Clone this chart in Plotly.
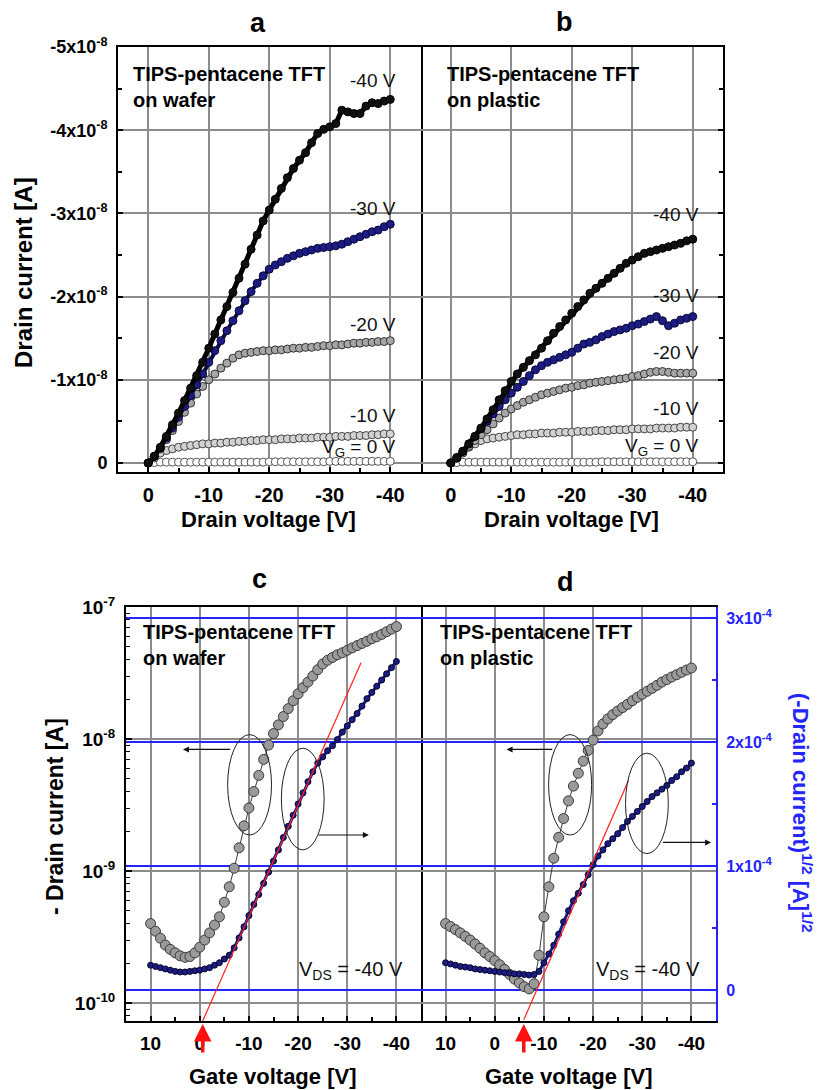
import plotly.graph_objects as go

W, H = 822, 1090


def px(x):
    return x / W


def py(y):
    return 1 - y / H


# ---------------- data ----------------
# Output characteristics (panels a, b): drain voltage sweep, |drain current| in units of 1e-8 A
VD = list(range(0, -41, -1))

A_VG0 = [0.0, 0.005, 0.01, 0.01, 0.01, 0.01, 0.01, 0.01, 0.01, 0.01, 0.01, 0.01, 0.01, 0.01,
         0.01, 0.01, 0.01, 0.01, 0.01, 0.01, 0.015, 0.015, 0.015, 0.015, 0.015, 0.015, 0.015,
         0.015, 0.015, 0.015, 0.02, 0.02, 0.02, 0.02, 0.02, 0.02, 0.02, 0.02, 0.02, 0.02, 0.02]
A_VG10 = [0, 0.06, 0.12, 0.15, 0.17, 0.19, 0.2, 0.21, 0.22, 0.23, 0.23, 0.24, 0.24, 0.25, 0.25,
          0.26, 0.26, 0.27, 0.27, 0.28, 0.28, 0.28, 0.29, 0.29, 0.29, 0.3, 0.3, 0.3, 0.31, 0.31,
          0.31, 0.32, 0.32, 0.32, 0.33, 0.33, 0.33, 0.34, 0.34, 0.35, 0.35]
A_VG20 = [0, 0.08, 0.17, 0.28, 0.39, 0.5, 0.61, 0.72, 0.83, 0.92, 1.0, 1.07, 1.14, 1.2, 1.26,
          1.3, 1.32, 1.33, 1.34, 1.35, 1.35, 1.36, 1.36, 1.37, 1.38, 1.38, 1.39, 1.39, 1.4, 1.41,
          1.41, 1.42, 1.42, 1.43, 1.44, 1.44, 1.45, 1.45, 1.46, 1.46, 1.47]
A_VG30 = [0, 0.08, 0.18, 0.3, 0.42, 0.55, 0.68, 0.81, 0.94, 1.07, 1.21, 1.35, 1.47, 1.59, 1.71,
          1.83, 1.95, 2.06, 2.16, 2.25, 2.33, 2.38, 2.42, 2.46, 2.49, 2.52, 2.54, 2.56, 2.58, 2.59,
          2.6, 2.61, 2.63, 2.66, 2.69, 2.72, 2.75, 2.78, 2.8, 2.84, 2.87]
A_VG40 = [0.0, 0.08, 0.19, 0.32, 0.46, 0.6, 0.75, 0.9, 1.05, 1.21, 1.38, 1.55, 1.72, 1.88, 2.05,
          2.22, 2.39, 2.57, 2.74, 2.91, 3.04, 3.17, 3.3, 3.43, 3.54, 3.64, 3.73, 3.85, 3.96, 4.01,
          4.04, 4.08, 4.24, 4.22, 4.2, 4.2, 4.29, 4.33, 4.32, 4.35, 4.37]

B_VG0 = [0.0, 0.005, 0.01, 0.01, 0.01, 0.01, 0.01, 0.01, 0.01, 0.01, 0.01, 0.01, 0.01, 0.01,
         0.01, 0.01, 0.01, 0.01, 0.01, 0.01, 0.01, 0.01, 0.01, 0.01, 0.01, 0.015, 0.015, 0.015,
         0.015, 0.015, 0.015, 0.015, 0.015, 0.015, 0.015, 0.015, 0.015, 0.015, 0.015, 0.015, 0.015]
B_VG10 = [0, 0.07, 0.14, 0.19, 0.23, 0.27, 0.29, 0.3, 0.31, 0.32, 0.33, 0.34, 0.34, 0.35, 0.35,
          0.36, 0.36, 0.36, 0.37, 0.37, 0.37, 0.38, 0.38, 0.38, 0.39, 0.39, 0.39, 0.4, 0.4, 0.4,
          0.41, 0.41, 0.41, 0.41, 0.42, 0.42, 0.42, 0.42, 0.43, 0.43, 0.43]
B_VG20 = [0, 0.06, 0.12, 0.2, 0.27, 0.34, 0.4, 0.47, 0.54, 0.6, 0.65, 0.69, 0.73, 0.76, 0.79,
          0.82, 0.84, 0.86, 0.88, 0.9, 0.91, 0.93, 0.94, 0.96, 0.97, 0.98, 0.99, 1.0, 1.01, 1.02,
          1.04, 1.05, 1.07, 1.09, 1.1, 1.1, 1.09, 1.08, 1.08, 1.08, 1.08]
B_VG30 = [0, 0.06, 0.14, 0.23, 0.32, 0.41, 0.5, 0.59, 0.68, 0.76, 0.84, 0.91, 0.98, 1.05, 1.12,
          1.17, 1.21, 1.24, 1.27, 1.3, 1.33, 1.38, 1.43, 1.45, 1.48, 1.52, 1.55, 1.58, 1.6, 1.62,
          1.65, 1.67, 1.7, 1.73, 1.76, 1.71, 1.65, 1.68, 1.72, 1.74, 1.76]
B_VG40 = [0, 0.06, 0.14, 0.23, 0.32, 0.42, 0.53, 0.64, 0.76, 0.87, 0.98, 1.07, 1.15, 1.23, 1.3,
          1.38, 1.47, 1.56, 1.64, 1.72, 1.8, 1.88, 1.96, 2.04, 2.1, 2.16, 2.22, 2.28, 2.34, 2.4,
          2.44, 2.48, 2.52, 2.54, 2.56, 2.58, 2.6, 2.62, 2.64, 2.67, 2.69]

# Transfer characteristics (panels c, d): gate voltage sweep
VG = list(range(10, -41, -1))
C_ID = [4.0e-10, 3.5e-10, 3.1e-10, 2.75e-10, 2.55e-10, 2.4e-10, 2.28e-10, 2.22e-10, 2.25e-10,
        2.4e-10, 2.65e-10,
        3.0e-10, 3.4e-10, 3.9e-10, 4.5e-10, 5.8e-10, 7.6e-10, 1.05e-9, 1.5e-9, 2.2e-9, 3.0e-9,
        4.0e-9, 5.3e-9, 7.0e-9, 9.0e-9, 1.1e-8, 1.28e-8, 1.48e-8, 1.7e-8, 1.95e-8, 2.2e-8,
        2.45e-8, 2.7e-8, 3.0e-8, 3.35e-8, 3.7e-8, 3.95e-8, 4.15e-8, 4.35e-8, 4.5e-8, 4.7e-8,
        4.9e-8, 5.1e-8, 5.3e-8, 5.5e-8, 5.75e-8, 5.95e-8, 6.2e-8, 6.5e-8, 6.8e-8, 7.1e-8]
# sqrt(-Id) in units of 1e-4 A^1/2
C_SQRT = [0.2, 0.19, 0.18, 0.17, 0.16, 0.15, 0.145, 0.145, 0.15, 0.155, 0.16,
          0.17, 0.18, 0.2, 0.22, 0.25, 0.28, 0.34, 0.42, 0.51, 0.6,
          0.69, 0.77, 0.86, 0.95, 1.04, 1.13, 1.23, 1.32, 1.41, 1.5,
          1.59, 1.68, 1.76, 1.83, 1.88, 1.93, 1.97, 2.02, 2.08, 2.13,
          2.18, 2.23, 2.29, 2.35, 2.4, 2.45, 2.5, 2.55, 2.6, 2.65]
D_ID = [4.0e-10, 3.8e-10, 3.6e-10, 3.4e-10, 3.2e-10, 3.0e-10, 2.8e-10, 2.6e-10, 2.4e-10,
        2.25e-10, 2.1e-10,
        1.95e-10, 1.8e-10, 1.65e-10, 1.52e-10, 1.42e-10, 1.33e-10, 1.28e-10, 1.4e-10, 2.3e-10,
        4.5e-10,
        7.6e-10, 1.25e-9, 1.8e-9, 2.5e-9, 3.4e-9, 4.4e-9, 5.5e-9, 6.8e-9, 8.2e-9, 9.8e-9,
        1.15e-8, 1.3e-8, 1.42e-8, 1.53e-8, 1.63e-8, 1.73e-8, 1.83e-8, 1.95e-8, 2.07e-8, 2.18e-8,
        2.3e-8, 2.42e-8, 2.55e-8, 2.7e-8, 2.82e-8, 2.95e-8, 3.07e-8, 3.2e-8, 3.33e-8, 3.45e-8]
D_SQRT = [0.22, 0.21, 0.2, 0.19, 0.185, 0.18, 0.17, 0.165, 0.16, 0.155, 0.15,
          0.145, 0.14, 0.135, 0.13, 0.13, 0.125, 0.12, 0.125, 0.15, 0.22,
          0.29, 0.36, 0.45, 0.55, 0.64, 0.72, 0.78, 0.85, 0.93, 1.01,
          1.08, 1.13, 1.18, 1.22, 1.26, 1.31, 1.36, 1.4, 1.44, 1.48,
          1.52, 1.56, 1.59, 1.62, 1.65, 1.69, 1.72, 1.76, 1.79, 1.83]

# linear fits of sqrt(Id) (endpoints, units 1e-4)
FIT_C_V = [-0.6, -32.8]
FIT_C_S = [-0.25, 2.64]
FIT_D_V = [-5.9, -27.2]
FIT_D_S = [-0.24, 1.69]

# tick labels
VD_TICKS = [0, -10, -20, -30, -40]
VD_TICKTEXT = ["0", "-10", "-20", "-30", "-40"]
ID_TICKS = [0, -1e-8, -2e-8, -3e-8, -4e-8, -5e-8]
ID_TICKTEXT = ["0", "-1x10<sup>-8</sup>", "-2x10<sup>-8</sup>", "-3x10<sup>-8</sup>",
               "-4x10<sup>-8</sup>", "-5x10<sup>-8</sup>"]
VG_TICKS = [10, 0, -10, -20, -30, -40]
VG_TICKTEXT = ["10", "0", "-10", "-20", "-30", "-40"]
LOG_TICKS = [1e-10, 1e-9, 1e-8, 1e-7]
LOG_TICKTEXT = ["10<sup>-10</sup>", "10<sup>-9</sup>", "10<sup>-8</sup>", "10<sup>-7</sup>"]
SQ_TICKS = [0, 1e-4, 2e-4, 3e-4]
SQ_TICKTEXT = ["0", "1x10<sup>-4</sup>", "2x10<sup>-4</sup>", "3x10<sup>-4</sup>"]

# ---------------- styles ----------------
FONT = "Liberation Sans, Arial, sans-serif"
GRID = "#8c8c8c"
BLUE = "#2424ff"
NAVY = "#1c1c84"

fig = go.Figure()

top_styles = [("white", "#555555", 1.5), ("#d2d2d2", "#444444", 2), ("#a6a6a6", "#333333", 2.5),
              (NAVY, "#0a0a3a", 4), ("#101010", "#000000", 5)]
for panel, curves in [(("x", "y"), [A_VG0, A_VG10, A_VG20, A_VG30, A_VG40]),
                      (("x2", "y2"), [B_VG0, B_VG10, B_VG20, B_VG30, B_VG40])]:
    for vals, (fill, edge, lw) in zip(curves, top_styles):
        fig.add_trace(go.Scatter(x=VD, y=[-v * 1e-8 for v in vals], mode="lines+markers",
                                 xaxis=panel[0], yaxis=panel[1],
                                 line=dict(color=edge, width=lw),
                                 marker=dict(size=8, color=fill, line=dict(color=edge, width=1))))

for xa, ylog, ysq, ids, sq, fv, fs in [("x3", "y3", "y5", C_ID, C_SQRT, FIT_C_V, FIT_C_S),
                                       ("x4", "y4", "y6", D_ID, D_SQRT, FIT_D_V, FIT_D_S)]:
    fig.add_trace(go.Scatter(x=VG, y=ids, mode="lines+markers", xaxis=xa, yaxis=ylog,
                             line=dict(color="#3a3a3a", width=1),
                             marker=dict(size=10, color="#9a9a9a",
                                         line=dict(color="#3a3a3a", width=1))))
    fig.add_trace(go.Scatter(x=VG, y=[s * 1e-4 for s in sq], mode="lines+markers", xaxis=xa,
                             yaxis=ysq, line=dict(color=NAVY, width=3),
                             marker=dict(size=6, color=NAVY, line=dict(color="#05052a", width=1))))
    fig.add_trace(go.Scatter(x=fv, y=[s * 1e-4 for s in fs], mode="lines", xaxis=xa, yaxis=ysq,
                             line=dict(color="#ff2020", width=1.2)))


# ---------------- axes ----------------
def xaxis(domain, rng, tv, tt, mtv, anchor, size=20):
    return dict(domain=domain, range=rng, anchor=anchor, tickmode="array", tickvals=tv,
                ticktext=tt, ticks="inside", ticklen=5, tickwidth=1.5, tickcolor="black",
                minor=dict(tickmode="array", tickvals=mtv, ticks="inside", ticklen=4,
                           tickwidth=1.5, tickcolor="black", showgrid=False),
                showline=True, linecolor="black", linewidth=2, mirror=True,
                showgrid=True, gridcolor=GRID, gridwidth=1.5, zeroline=False,
                tickfont=dict(family=FONT, size=size, color="black", weight="bold"),
                ticklabelstandoff=4, automargin=False)


top_minor_x = [5, -5, -15, -25, -35, -45]
bot_minor_x = [15, 5, -5, -15, -25, -35, -45]
top_minor_y = [-0.5e-8, -1.5e-8, -2.5e-8, -3.5e-8, -4.5e-8]
log_minor = [m * 10.0 ** e for e in (-11, -10, -9, -8) for m in range(2, 10)]

TOP_Y_RANGE = [1.08e-9, -5e-8]
LOG_RANGE = [-10.136, -7]
SQ_RANGE = [-0.25e-4, 3.089e-4]

fig.update_layout(
    width=W, height=H, margin=dict(l=0, r=0, t=0, b=0, pad=0), autosize=False,
    paper_bgcolor="white", plot_bgcolor="white", showlegend=False,
    xaxis=xaxis([px(118), px(420.5)], [5, -45], VD_TICKS, VD_TICKTEXT, top_minor_x, "y"),
    xaxis2=xaxis([px(420.5), px(723)], [5, -45], VD_TICKS, VD_TICKTEXT, top_minor_x, "y2"),
    xaxis3=xaxis([px(126), px(421)], [15, -45], VG_TICKS, VG_TICKTEXT, bot_minor_x, "y3", 19),
    xaxis4=xaxis([px(421), px(716)], [15, -45], VG_TICKS, VG_TICKTEXT, bot_minor_x, "y4", 19),
    yaxis=dict(domain=[py(472), py(47)], range=TOP_Y_RANGE, anchor="x", tickmode="array",
               tickvals=ID_TICKS, ticktext=ID_TICKTEXT, ticks="inside", ticklen=5,
               tickwidth=1.5, tickcolor="black",
               minor=dict(tickmode="array", tickvals=top_minor_y, ticks="inside", ticklen=4,
                          tickwidth=1.5, tickcolor="black", showgrid=False),
               showline=True, linecolor="black", linewidth=2, mirror=True,
               showgrid=True, gridcolor=GRID, gridwidth=1.5, zeroline=False,
               tickfont=dict(family=FONT, size=18, color="black", weight="bold"),
               ticklabelstandoff=5, automargin=False),
    yaxis2=dict(domain=[py(472), py(47)], range=TOP_Y_RANGE, anchor="x2", side="right",
                tickmode="array", tickvals=ID_TICKS, showticklabels=False, ticks="inside",
                ticklen=5, tickwidth=1.5, tickcolor="black",
                minor=dict(tickmode="array", tickvals=top_minor_y, ticks="inside", ticklen=4,
                           tickwidth=1.5, tickcolor="black", showgrid=False),
                showline=True, linecolor="black", linewidth=2, mirror=False,
                showgrid=True, gridcolor=GRID, gridwidth=1.5, zeroline=False, automargin=False),
    yaxis3=dict(domain=[py(1021), py(607)], type="log", range=LOG_RANGE, anchor="x3",
                tickmode="array", tickvals=LOG_TICKS, ticktext=LOG_TICKTEXT, ticks="inside",
                ticklen=6, tickwidth=1.5, tickcolor="black",
                minor=dict(tickmode="array", tickvals=log_minor, ticks="inside", ticklen=4,
                           tickwidth=1.2, tickcolor="black", showgrid=False),
                showline=True, linecolor="black", linewidth=2, mirror=True,
                showgrid=True, gridcolor=GRID, gridwidth=1.5, zeroline=False,
                tickfont=dict(family=FONT, size=19, color="black", weight="bold"),
                ticklabelstandoff=5, automargin=False),
    yaxis4=dict(domain=[py(1021), py(607)], type="log", range=LOG_RANGE, anchor="x4",
                tickmode="array", tickvals=LOG_TICKS, showticklabels=False, ticks="",
                showline=False, showgrid=True, gridcolor=GRID, gridwidth=1.5, zeroline=False,
                automargin=False),
    yaxis5=dict(overlaying="y3", anchor="x3", side="right", range=SQ_RANGE, tickmode="array",
                tickvals=SQ_TICKS, showticklabels=False, ticks="", showline=False,
                showgrid=True, gridcolor=BLUE, gridwidth=2, zeroline=False, automargin=False),
    yaxis6=dict(overlaying="y4", anchor="x4", side="right", range=SQ_RANGE, tickmode="array",
                tickvals=SQ_TICKS, ticktext=SQ_TICKTEXT, ticks="inside", ticklen=5,
                tickwidth=1.5, tickcolor=BLUE,
                minor=dict(tickmode="array", tickvals=[0.5e-4, 1.5e-4, 2.5e-4], ticks="inside",
                           ticklen=4, tickwidth=1.5, tickcolor=BLUE, showgrid=False),
                showline=True, linecolor=BLUE, linewidth=2,
                showgrid=True, gridcolor=BLUE, gridwidth=2, zeroline=False,
                tickfont=dict(family=FONT, size=16, color=BLUE, weight="bold"),
                ticklabelstandoff=5, automargin=False),
)

# ---------------- annotations ----------------
ann = []


def txt(text, x, y, size, bold=False, color="black", xanchor="center", yanchor="middle",
        angle=0, align="left"):
    ann.append(dict(text=text, x=px(x), y=py(y), xref="paper", yref="paper", showarrow=False,
                    font=dict(family=FONT, size=size, color=color,
                              weight="bold" if bold else "normal"),
                    xanchor=xanchor, yanchor=yanchor, textangle=angle, align=align))


# panel letters
txt("a", 258, 23, 27, bold=True)
txt("b", 564, 22, 27, bold=True)
txt("c", 259, 579, 27, bold=True)
txt("d", 565, 582, 27, bold=True)

# descriptive labels
txt("TIPS-pentacene TFT<br>on wafer", 131, 87, 20, bold=True, xanchor="left")
txt("TIPS-pentacene TFT<br>on plastic", 445, 87, 20, bold=True, xanchor="left")
txt("TIPS-pentacene TFT<br>on wafer", 141, 645, 20, bold=True, xanchor="left")
txt("TIPS-pentacene TFT<br>on plastic", 438, 645, 20, bold=True, xanchor="left")

# gate voltage labels
for t, y in [("-40 V", 80), ("-30 V", 208), ("-20 V", 324), ("-10 V", 415),
             ("V<sub>G</sub> = 0 V", 448)]:
    txt(t, 398, y, 19, color="#111111", xanchor="right")
for t, y in [("-40 V", 214), ("-30 V", 295), ("-20 V", 352), ("-10 V", 408),
             ("V<sub>G</sub> = 0 V", 447)]:
    txt(t, 701, y, 19, color="#111111", xanchor="right")

txt("V<sub>DS</sub> = -40 V", 297, 970, 20, color="#111111", xanchor="left")
txt("V<sub>DS</sub> = -40 V", 594, 970, 20, color="#111111", xanchor="left")

# axis titles
txt("Drain current [A]", 23, 273, 24, bold=True, angle=-90)
txt("Drain voltage [V]", 268, 519, 22, bold=True)
txt("Drain voltage [V]", 571, 519, 22, bold=True)
txt("- Drain current [A]", 55, 817, 23, bold=True, angle=-90)
txt("Gate voltage [V]", 272, 1076, 22, bold=True)
txt("Gate voltage [V]", 568, 1076, 22, bold=True)
txt("(-Drain current)<sup>1/2</sup> [A]<sup>1/2</sup>", 802, 813, 22, bold=True, color=BLUE,
    angle=90)

# pointer arrows next to the ellipses (data coords of the sqrt axis)
for xa, ya, hx, hy, tx, ty in [("x3", "y5", 3.4, 1.94, -6.5, 1.94),
                               ("x3", "y5", -34.4, 1.25, -23.9, 1.25),
                               ("x4", "y6", -2.4, 1.94, -12.0, 1.94),
                               ("x4", "y6", -44.0, 1.19, -33.9, 1.19)]:
    ann.append(dict(x=hx, y=hy * 1e-4, ax=tx, ay=ty * 1e-4, xref=xa, yref=ya, axref=xa,
                    ayref=ya, text="", showarrow=True, arrowhead=2, arrowsize=1,
                    arrowwidth=1.2, arrowcolor="#111111"))

# threshold-voltage red arrows
for xa, vx in [("x3", FIT_C_V[0]), ("x4", FIT_D_V[0])]:
    ann.append(dict(x=vx, y=py(1024), xref=xa, yref="paper", ax=0, ay=30, axref="pixel",
                    ayref="pixel", text="", showarrow=True, arrowhead=2, arrowsize=1,
                    arrowwidth=3.5, arrowcolor="#ff1010"))

fig.update_layout(annotations=ann)

# ellipses
shapes = []
for xa, ya, x0, x1, y0, y1 in [("x3", "y5", -5.67, -14.6, 1.25, 2.06),
                               ("x3", "y5", -16.6, -25.3, 1.13, 1.95),
                               ("x4", "y6", -10.95, -19.7, 1.25, 2.06),
                               ("x4", "y6", -26.6, -35.3, 1.10, 1.91)]:
    shapes.append(dict(type="circle", xref=xa, yref=ya, x0=x0, x1=x1, y0=y0 * 1e-4,
                       y1=y1 * 1e-4, line=dict(color="#222222", width=1)))
fig.update_layout(shapes=shapes)

fig.write_html("out.html", config={"displayModeBar": False},
               post_script="document.body.style.margin='0px';document.body.style.padding='0px';")
